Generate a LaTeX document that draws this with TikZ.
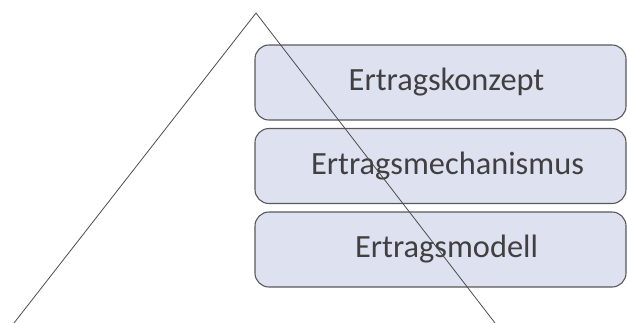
\documentclass[tikz,border=0pt]{standalone}
\usepackage{fontspec}
\setmainfont{Carlito}
\begin{document}
\begin{tikzpicture}[x=1bp,y=-1bp,
  layer/.style={draw=black!65,line width=1.1bp,fill={rgb,255:red,222;green,225;blue,239},rounded corners=14bp,minimum width=371bp,minimum height=75bp,inner sep=0pt,text={rgb,255:red,64;green,64;blue,64},font=\fontsize{32.5}{36}\selectfont},
  lbl/.style={text={rgb,255:red,64;green,64;blue,64},font=\fontsize{32.5}{36}\selectfont,inner sep=0pt},
  edge/.style={draw=black!70,line width=0.8bp}]
\useasboundingbox (0,0) rectangle (627,322);
\node[layer] (k1) at (440.5,82.5) {};
\node[layer] (k2) at (440.5,166) {};
\node[layer] (k3) at (440.5,249.5) {};
\node[lbl] (t1) at ([xshift=6bp]k1.center) {Ertragskonzept};
\node[lbl] (t2) at ([xshift=7bp]k2.center) {Ertragsmechanismus};
\node[lbl] (t3) at ([xshift=6bp]k3.center) {Ertragsmodell};
\coordinate (top) at (256,13);
\coordinate (bl) at (14,323);
\coordinate (br) at (495,323);
\draw[edge] (bl) -- (top) -- (br);
\end{tikzpicture}
\end{document}
